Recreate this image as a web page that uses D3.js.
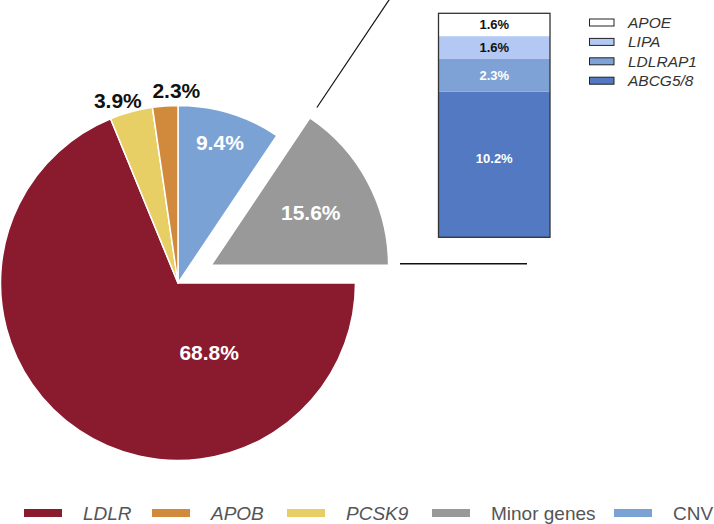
<!DOCTYPE html>
<html><head><meta charset="utf-8">
<script src="https://cdn.jsdelivr.net/npm/d3@7"></script>
<style>body{margin:0;background:#fff}svg{display:block}text{font-family:"Liberation Sans",Arial,sans-serif}</style>
</head><body><svg id="c" width="714" height="524"></svg>
<script>
// Pie data (clockwise from 12 o'clock)
const pieCategories = ["CNV", "Minor genes", "LDLR", "PCSK9", "APOB"];
const pieValues = [9.4, 15.6, 68.8, 3.9, 2.3];
const pieColors = ["#7ba2d5", "#999999", "#8a1b2f", "#e7cf66", "#d18a3b"];
// Stacked bar (breakdown of minor genes), bottom to top
const barCategories = ["ABCG5/8", "LDLRAP1", "LIPA", "APOE"];
const barValues = [10.2, 2.3, 1.6, 1.6];
const barColors = ["#5279c1", "#7fa2d6", "#b3c8f3", "#ffffff"];
const barLabelColors = ["#fff", "#fff", "#111", "#111"];
// Bottom legend order
const legendOrder = ["LDLR", "APOB", "PCSK9", "Minor genes", "CNV"];
const italicNames = ["LDLR", "APOB", "PCSK9", "APOE", "LIPA", "LDLRAP1", "ABCG5/8"];

const svg = d3.select("#c");
const cx = 178, cy = 283, R = 177.5;
const explode = 37.5;
const colorOf = d3.scaleOrdinal().domain(pieCategories).range(pieColors);

const pie = d3.pie().sort(null).value(d => d.v);
const arcs = pie(pieCategories.map((c, i) => ({c, v: pieValues[i]})));
const arc = d3.arc().innerRadius(0).outerRadius(R);

const g = svg.append("g").attr("transform", `translate(${cx},${cy})`);
function offsetOf(d) {
  if (d.data.c !== "Minor genes") return [0, 0];
  const m = (d.startAngle + d.endAngle) / 2;
  return [Math.sin(m) * explode, -Math.cos(m) * explode];
}
g.selectAll("path.slice").data(arcs).join("path")
  .attr("class", "slice")
  .attr("d", arc)
  .attr("transform", d => { const o = offsetOf(d); return `translate(${o[0]},${o[1]})`; })
  .attr("fill", d => colorOf(d.data.c))
  .attr("stroke", "#fff").attr("stroke-width", 1.5).attr("stroke-linejoin", "round");

// labels: [radius, angle override in degrees or null, color]
const labelCfg = {
  "CNV": [146.6, 16.6, "#fff"],
  "Minor genes": [113, null, "#fff"],
  "LDLR": [76, 155.8, "#fff"],
  "PCSK9": [192.6, -18.2, "#111"],
  "APOB": [193, -0.5, "#111"]
};
function lpos(d) {
  const o = offsetOf(d), cfg = labelCfg[d.data.c];
  const a = cfg[1] !== null ? cfg[1] * Math.PI / 180 : (d.startAngle + d.endAngle) / 2;
  return [o[0] + Math.sin(a) * cfg[0], o[1] - Math.cos(a) * cfg[0]];
}
g.selectAll("text.pl").data(arcs).join("text")
  .attr("class", "pl")
  .attr("x", d => lpos(d)[0])
  .attr("y", d => lpos(d)[1])
  .attr("dy", "0.36em")
  .attr("text-anchor", "middle")
  .attr("font-size", 21).attr("font-weight", "bold")
  .attr("fill", d => labelCfg[d.data.c][2])
  .text(d => d.data.v.toFixed(1) + "%");

// connector lines from exploded slice
const minor = arcs.find(d => d.data.c === "Minor genes");
const mo = offsetOf(minor);
const ax = cx + mo[0], ay = cy + mo[1];
const sa = minor.startAngle;
svg.append("line")
  .attr("x1", ax + Math.sin(sa) * 190).attr("y1", ay - Math.cos(sa) * 190)
  .attr("x2", ax + Math.sin(sa) * 340).attr("y2", ay - Math.cos(sa) * 340)
  .attr("stroke", "#111").attr("stroke-width", 1.2);
svg.append("line")
  .attr("x1", 400).attr("x2", 527).attr("y1", ay - 1.5).attr("y2", ay - 1.5)
  .attr("stroke", "#111").attr("stroke-width", 1.5);

// stacked bar
const barX = 438.5, barW = 111.5;
const total = d3.sum(barValues);
const y = d3.scaleLinear().domain([0, total]).range([237.3, 13.3]);
const stack = [];
let acc = 0;
barValues.forEach((v, i) => { stack.push({c: barCategories[i], v, y0: acc, y1: acc + v, col: barColors[i], lc: barLabelColors[i]}); acc += v; });
const bg = svg.append("g");
bg.selectAll("rect").data(stack).join("rect")
  .attr("x", barX).attr("width", barW)
  .attr("y", d => y(d.y1)).attr("height", d => y(d.y0) - y(d.y1))
  .attr("fill", d => d.col);
bg.append("rect").attr("x", barX).attr("y", y(total)).attr("width", barW)
  .attr("height", y(0) - y(total)).attr("fill", "none").attr("stroke", "#333").attr("stroke-width", 1.3);
bg.selectAll("text").data(stack).join("text")
  .attr("x", barX + barW / 2)
  .attr("y", d => (y(d.y0) + y(d.y1)) / 2 - (d.c === "ABCG5/8" ? 6 : 0))
  .attr("dy", "0.36em").attr("text-anchor", "middle")
  .attr("font-size", 13).attr("font-weight", "bold")
  .attr("fill", d => d.lc)
  .text(d => d.v.toFixed(1) + "%");

// right legend (top to bottom)
const rl = svg.append("g");
const rlItems = barCategories.map((c, i) => ({c, col: barColors[i]})).reverse();
rlItems.forEach((d, i) => {
  const yy = 22.5 + i * 19.4;
  rl.append("rect").attr("x", 589.5).attr("y", yy - 3.5).attr("width", 24.5).attr("height", 7)
    .attr("fill", d.col).attr("stroke", "#222").attr("stroke-width", 1);
  rl.append("text").attr("x", 628).attr("y", yy).attr("dy", "0.36em")
    .attr("font-size", 15.5).attr("font-style", "italic").attr("fill", "#333").text(d.c);
});

// bottom legend
const bl = svg.append("g");
const blX = [24, 152, 287, 432, 614];
legendOrder.forEach((c, i) => {
  bl.append("rect").attr("x", blX[i]).attr("y", 509).attr("width", 38).attr("height", 8).attr("fill", colorOf(c));
  bl.append("text").attr("x", blX[i] + 59).attr("y", 519.5)
    .attr("font-size", 19).attr("fill", "#555")
    .attr("font-style", italicNames.includes(c) ? "italic" : "normal")
    .text(c);
});
</script></body></html>
